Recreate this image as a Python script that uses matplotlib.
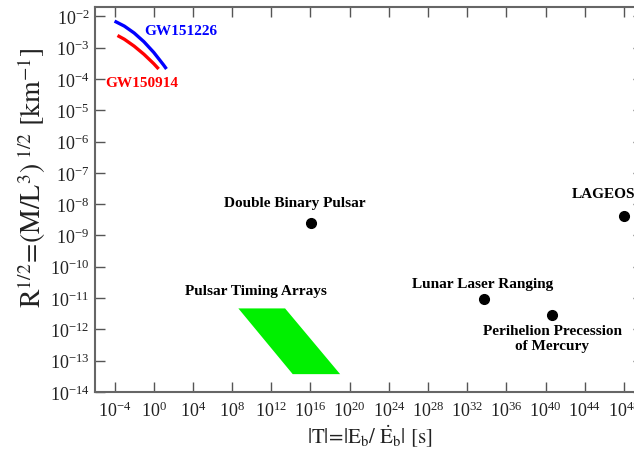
import matplotlib
matplotlib.use('Agg')
import matplotlib.pyplot as plt
import numpy as np

plt.rcParams['font.family'] = ['Liberation Serif', 'DejaVu Serif']
plt.rcParams['mathtext.fontset'] = 'stix'

# GW events: log10 of |T| [s] and R^1/2 [km^-1] along each track
gw151226_logT = [-4.0, -3.0, -2.0, -1.0, 0.0, 1.0, 1.3]
gw151226_logR = [-2.15, -2.31, -2.53, -2.81, -3.15, -3.55, -3.68]
gw150914_logT = [-3.7, -3.0, -2.0, -1.0, 0.0, 0.5]
gw150914_logR = [-2.61, -2.73, -2.95, -3.21, -3.51, -3.68]

# pulsar timing arrays region (corners, log10)
pta_logT = [8.64, 13.41, 19.03, 14.19]
pta_logR = [-11.33, -11.33, -13.43, -13.43]

# single experiments
exp_names = ['Double Binary Pulsar', 'Lunar Laser Ranging',
             'Perihelion Precession\nof Mercury', 'LAGEOS']
exp_logT = [16.06, 33.77, 40.71, 48.03]
exp_logR = [-8.61, -11.03, -11.54, -8.37]

# label anchors (log10 T, log10 R, horizontal alignment)
label_logT = [14.4, 33.6, 40.7, 42.7]
label_logR = [-7.94, -10.52, -12.28, -7.65]
label_ha = ['center', 'center', 'center', 'left']

xticks = 10.0 ** np.arange(-4, 52, 4)
yticks = 10.0 ** np.arange(-14, -1, 1)

fig = plt.figure(figsize=(6.34, 4.56), dpi=100)
ax = fig.add_axes([0.1498, 0.1382, 0.8651, 0.8443])
ax.set_xscale('log')
ax.set_yscale('log')

ax.plot(10.0 ** np.array(gw151226_logT), 10.0 ** np.array(gw151226_logR),
        color='#0000ff', lw=2.4, solid_capstyle='butt')
ax.plot(10.0 ** np.array(gw150914_logT), 10.0 ** np.array(gw150914_logR),
        color='#ff0000', lw=2.4, solid_capstyle='butt')
ax.text(10.0 ** -1.0, 10.0 ** -2.45, 'GW151226', color='#0000ff',
        fontsize=11, fontweight='bold', ha='left', va='center')
ax.text(10.0 ** -4.9, 10.0 ** -4.1, 'GW150914', color='#ff0000',
        fontsize=11, fontweight='bold', ha='left', va='center')

ax.fill(10.0 ** np.array(pta_logT), 10.0 ** np.array(pta_logR),
        color='#00f000', lw=0)
ax.text(10.0 ** 10.39, 10.0 ** -10.75, 'Pulsar Timing Arrays',
        fontsize=11, fontweight='bold', ha='center', va='center')

ax.plot(10.0 ** np.array(exp_logT), 10.0 ** np.array(exp_logR), 'o',
        color='black', ms=7, clip_on=False)
for name, lx, ly, ha in zip(exp_names, label_logT, label_logR, label_ha):
    ax.text(10.0 ** lx, 10.0 ** ly, name, fontsize=11, fontweight='bold',
            ha=ha, va='center', linespacing=1.15)

ax.set_xlim(1e-6, 1e50)
ax.set_ylim(1e-14, 2e-2)
ax.set_xticks(xticks)
ax.set_yticks(yticks)
ax.xaxis.set_minor_locator(matplotlib.ticker.NullLocator())
ax.yaxis.set_minor_locator(matplotlib.ticker.NullLocator())
ax.tick_params(which='major', direction='in', length=7, width=1.0,
               color='#555555', top=True, right=True, labelsize=13,
               labelcolor='#222222')
ax.tick_params(axis='x', pad=6)
ax.tick_params(axis='y', pad=4)
for sp in ax.spines.values():
    sp.set_color('#666666')
    sp.set_linewidth(1.5)

ax.set_xlabel(r'$|\mathrm{T}|\!=\!|\mathrm{E}_\mathrm{b}/\ \dot{\mathrm{E}}_\mathrm{b}|\ [\mathrm{s}]$',
              fontsize=15, color='#222222')
ax.xaxis.set_label_coords(0.5, -0.08)
ax.set_ylabel(r'$\mathrm{R}^{1/2}\!=\!(\mathrm{M/L}^{3})^{\ 1/2}\ [\mathrm{km}^{-1}]$',
              fontsize=20, color='#222222')
ax.yaxis.set_label_coords(-0.085, 0.558)

fig.savefig('out.png', dpi=100)
